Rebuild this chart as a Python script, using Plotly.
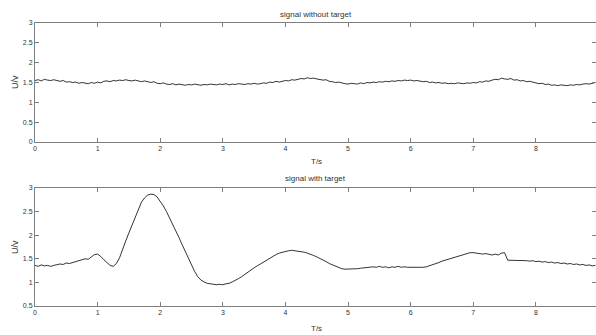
import numpy as np
import plotly.graph_objects as go

# time axis (seconds), sampled every 0.05 s
t = [round(i * 0.05, 2) for i in range(180)]

# U/v without target
u_without = [
    1.55,1.57,1.54,1.58,1.56,1.55,1.57,1.54,1.53,1.55,1.51,1.52,1.50,1.51,1.48,1.50,1.49,1.47,1.50,1.48,
    1.51,1.49,1.53,1.54,1.52,1.55,1.54,1.56,1.55,1.57,1.55,1.54,1.56,1.53,1.52,1.54,1.51,1.50,1.52,1.48,
    1.47,1.49,1.46,1.45,1.47,1.44,1.46,1.45,1.43,1.45,1.44,1.46,1.44,1.43,1.45,1.44,1.46,1.45,1.44,1.46,
    1.45,1.47,1.44,1.46,1.45,1.47,1.46,1.45,1.47,1.46,1.48,1.46,1.47,1.49,1.48,1.51,1.50,1.53,1.51,1.54,
    1.55,1.54,1.57,1.56,1.58,1.60,1.59,1.62,1.60,1.61,1.59,1.58,1.56,1.57,1.53,1.52,1.50,1.51,1.48,1.47,
    1.46,1.48,1.47,1.46,1.49,1.47,1.50,1.49,1.51,1.50,1.52,1.51,1.53,1.52,1.54,1.53,1.55,1.54,1.56,1.55,
    1.56,1.54,1.55,1.53,1.52,1.53,1.50,1.51,1.49,1.50,1.48,1.49,1.47,1.48,1.47,1.49,1.48,1.47,1.49,1.48,
    1.50,1.49,1.52,1.51,1.54,1.53,1.56,1.58,1.57,1.61,1.59,1.58,1.60,1.56,1.57,1.54,1.55,1.52,1.53,1.50,
    1.49,1.47,1.48,1.45,1.46,1.43,1.44,1.42,1.44,1.43,1.42,1.44,1.43,1.45,1.44,1.46,1.47,1.46,1.48,1.50,
]

# U/v with target
u_with = [
    1.36,1.34,1.37,1.35,1.36,1.34,1.36,1.37,1.39,1.38,1.41,1.40,1.42,1.44,1.45,1.47,1.50,1.49,1.55,1.59,
    1.60,1.55,1.48,1.41,1.36,1.34,1.40,1.52,1.68,1.88,2.05,2.22,2.40,2.57,2.70,2.79,2.85,2.87,2.86,2.81,
    2.72,2.62,2.50,2.37,2.23,2.10,1.95,1.80,1.65,1.50,1.36,1.23,1.12,1.05,1.01,0.98,0.97,0.96,0.95,0.96,
    0.95,0.97,0.98,1.01,1.04,1.08,1.12,1.17,1.22,1.27,1.31,1.35,1.39,1.44,1.48,1.52,1.56,1.59,1.62,1.64,
    1.66,1.67,1.68,1.67,1.67,1.66,1.64,1.62,1.60,1.57,1.54,1.51,1.47,1.44,1.40,1.37,1.34,1.31,1.29,1.28,
    1.28,1.28,1.29,1.29,1.30,1.31,1.31,1.32,1.33,1.32,1.34,1.32,1.33,1.31,1.33,1.32,1.34,1.32,1.33,1.32,
    1.32,1.32,1.31,1.32,1.32,1.33,1.35,1.37,1.40,1.42,1.45,1.47,1.50,1.52,1.54,1.56,1.58,1.60,1.62,1.63,
    1.63,1.62,1.62,1.60,1.61,1.59,1.58,1.60,1.58,1.62,1.63,1.47,1.47,1.47,1.47,1.47,1.47,1.46,1.45,1.46,
    1.44,1.45,1.43,1.44,1.42,1.43,1.41,1.42,1.40,1.41,1.39,1.40,1.38,1.39,1.37,1.38,1.36,1.37,1.35,1.36,
]

x_ticks = [0, 1, 2, 3, 4, 5, 6, 7, 8]
y_ticks_top = [0, 0.5, 1, 1.5, 2, 2.5, 3]
y_ticks_bottom = [0.5, 1, 1.5, 2, 2.5, 3]

FONT = "Liberation Sans, Arial, sans-serif"
AX = "#7f7f7f"
TXT = "#333333"

fig = go.Figure()
fig.add_trace(go.Scatter(x=t, y=u_without, mode="lines", line=dict(color="black", width=0.8),
                         xaxis="x", yaxis="y", showlegend=False))
fig.add_trace(go.Scatter(x=t, y=u_with, mode="lines", line=dict(color="black", width=0.8),
                         xaxis="x2", yaxis="y2", showlegend=False))

common_x = dict(range=[0, 8.96], tickvals=x_ticks, ticks="inside", ticklen=4, tickcolor=AX,
                showline=True, linecolor=AX, linewidth=1, mirror="ticks", showgrid=False,
                zeroline=False, tickfont=dict(size=7, color=TXT, family=FONT))
common_y = dict(ticks="inside", ticklen=4, tickcolor=AX, showline=True, linecolor=AX,
                linewidth=1, mirror="ticks", showgrid=False, zeroline=False,
                tickfont=dict(size=7, color=TXT, family=FONT))

top_dom = [0.5795, 1.0]
bot_dom = [0.0, 0.417]

fig.update_layout(
    width=596, height=335,
    margin=dict(l=35, r=0, t=23, b=29),
    paper_bgcolor="white", plot_bgcolor="white",
    xaxis=dict(common_x, domain=[0, 1], anchor="y"),
    yaxis=dict(common_y, domain=top_dom, range=[0, 3], tickvals=y_ticks_top, anchor="x"),
    xaxis2=dict(common_x, domain=[0, 1], anchor="y2"),
    yaxis2=dict(common_y, domain=bot_dom, range=[0.5, 3], tickvals=y_ticks_bottom, anchor="x2"),
    font=dict(family=FONT, color=TXT),
)

ann = [
    dict(text="signal without target", x=0.5, y=1.0318, size=8, angle=0),
    dict(text="signal with target", x=0.5, y=0.4488, size=8, angle=0),
    dict(text="T/s", x=0.502, y=0.512, size=8, angle=0),
    dict(text="T/s", x=0.502, y=-0.081, size=8, angle=0),
    dict(text="U/v", x=-0.0357, y=0.7915, size=9, angle=-90),
    dict(text="U/v", x=-0.0357, y=0.2085, size=9, angle=-90),
]
for a in ann:
    fig.add_annotation(text=a["text"], x=a["x"], y=a["y"], xref="paper", yref="paper",
                       xanchor="center", yanchor="middle", showarrow=False,
                       textangle=a["angle"], font=dict(size=a["size"], color=TXT, family=FONT))

fig.write_html("out.html", config={"displayModeBar": False},
               post_script="document.body.style.margin='0';document.body.style.overflow='hidden';")
